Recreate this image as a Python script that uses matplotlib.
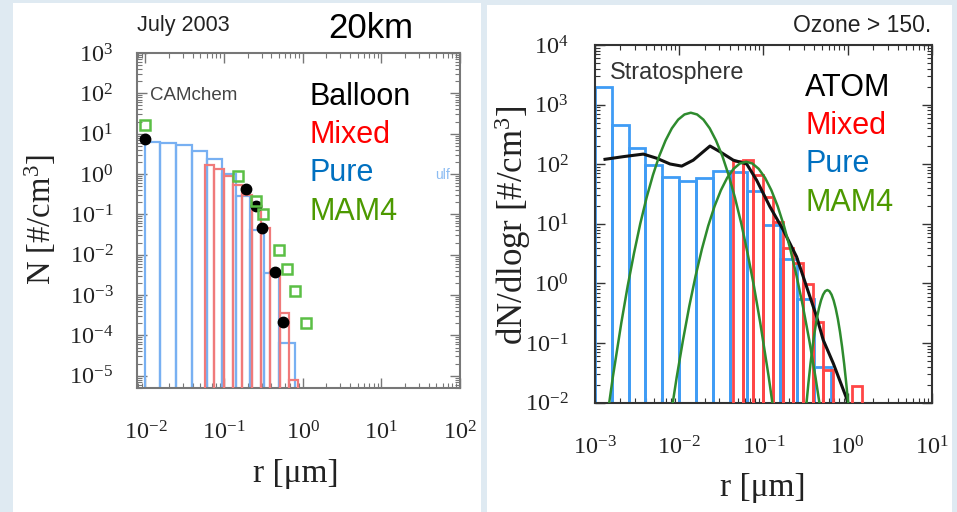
import matplotlib
matplotlib.use("Agg")
import matplotlib.pyplot as plt
from matplotlib.patches import Rectangle
from matplotlib.ticker import LogLocator, NullFormatter
import numpy as np

plt.rcParams["mathtext.fontset"] = "custom"
plt.rcParams["mathtext.rm"] = "Liberation Serif"
plt.rcParams["mathtext.it"] = "Liberation Serif:italic"
plt.rcParams["font.family"] = ["Liberation Sans", "DejaVu Sans"]

# ---- left panel: CAMchem at 20 km, July 2003 ----
pure_edges_l = [0.0100, 0.01556, 0.02426, 0.0389, 0.0614, 0.0942, 0.1426, 0.2153, 0.326, 0.507, 0.789]
pure_l = [6.1, 5.9, 5.3, 3.8, 2.4, 1.0, 0.28, 0.042, 0.0035, 6.6e-5]
mixed_edges_l = [0.0570, 0.0750, 0.0986, 0.1297, 0.1706, 0.2244, 0.2951, 0.3882, 0.5105, 0.6714, 0.8831]
mixed_l = [1.7, 1.33, 0.9, 0.54, 0.31, 0.17, 0.046, 0.0038, 3.5e-4, 8e-6]
balloon_r = [0.010, 0.191, 0.252, 0.307, 0.44, 0.555]
balloon_n = [7.4, 0.43, 0.164, 0.047, 0.0038, 2.1e-4]
mam4_r_l = [0.010, 0.152, 0.257, 0.313, 0.50, 0.637, 0.796, 1.09]
mam4_n_l = [16.7, 0.87, 0.21, 0.102, 0.0132, 0.0044, 0.00126, 2.0e-4]

# ---- right panel: stratosphere, ozone > 150 ----
pure_edges_r = [0.001, 0.00158, 0.00251, 0.00398, 0.00631, 0.0100, 0.0158, 0.0251,
                0.0398, 0.0631, 0.100, 0.158, 0.251, 0.398, 0.631]
pure_r = [2000, 455, 185, 97, 62, 52, 59, 77, 75, 36, 9.5, 2.6, 0.54, 0.04]
mixed_edges_r = [0.04395, 0.05768, 0.07568, 0.09931, 0.1303, 0.1710, 0.2244, 0.2944,
                 0.3864, 0.5070, 0.6653, 0.8730, 1.1455, 1.503]
mixed_r = [112, 118, 66, 28, 10.8, 3.9, 2.2, 0.98, 0.23, 0.035, 0, 0, 0.019]
atom_r = [0.001315, 0.002168, 0.00375, 0.00541, 0.00778, 0.01072, 0.01469, 0.02323,
          0.03055, 0.04395, 0.0634, 0.0832, 0.1197, 0.1722, 0.2483, 0.3266,
          0.4295, 0.5140, 0.6761, 0.975, 1.0]
atom_n = [121, 134, 148, 126, 101, 93, 117, 202, 162, 117, 101, 54, 19.4, 7.9,
          2.8, 0.88, 0.277, 0.113, 0.046, 0.0118, 0.0100]
# MAM4 modes
aitken_r = [0.001374, 0.001633, 0.002056, 0.002443, 0.002904, 0.003451, 0.00410, 0.004875,
            0.00579, 0.006887, 0.00818, 0.00973, 0.01156, 0.01374, 0.01633, 0.0194,
            0.02307, 0.0274, 0.0326, 0.0387, 0.0460, 0.0547, 0.0650, 0.0773, 0.0918,
            0.1156, 0.1374]
aitken_n = [0.0049, 0.0275, 0.22, 0.90, 3.2, 10.1, 27.5, 65.6, 137, 250, 400, 560, 684,
            731, 684, 560, 400, 250, 137, 65.6, 27.5, 10.1, 3.2, 0.90, 0.22, 0.0275, 0.0049]
accum_r = [0.00785, 0.00933, 0.0111, 0.01318, 0.01567, 0.01862, 0.0221, 0.0263, 0.0313,
           0.0372, 0.0442, 0.0525, 0.0624, 0.0741, 0.0881, 0.1047, 0.1245, 0.148,
           0.176, 0.209, 0.248, 0.295, 0.351, 0.417, 0.495]
accum_n = [0.0054, 0.0264, 0.112, 0.415, 1.34, 3.77, 9.2, 19.7, 36.6, 59.3, 83.6, 102.8,
           110, 102.8, 83.6, 59.3, 36.6, 19.7, 9.2, 3.77, 1.34, 0.415, 0.112, 0.0264, 0.0054]
coarse_r = [0.2884, 0.3055, 0.3236, 0.3428, 0.3631, 0.3846, 0.4074, 0.4315, 0.4571,
            0.4842, 0.5129, 0.5433, 0.5754, 0.6095, 0.6457, 0.6839, 0.7244, 0.7674,
            0.8128, 0.861, 0.912, 0.966, 1.0233, 1.0839, 1.148]
coarse_n = [0.00127, 0.00354, 0.009, 0.021, 0.045, 0.0875, 0.156, 0.255, 0.38, 0.52,
            0.65, 0.743, 0.776, 0.743, 0.65, 0.52, 0.38, 0.255, 0.156, 0.0875, 0.045,
            0.021, 0.009, 0.00354, 0.00127]

W, H = 957, 512
fig = plt.figure(figsize=(W / 100, H / 100), dpi=100)
fig.patch.set_facecolor("#dfeaf2")
fig.add_artist(Rectangle((13 / W, 0), (481 - 13) / W, 1 - 3 / H,
                         transform=fig.transFigure, facecolor="white", edgecolor="none", zorder=0))
fig.add_artist(Rectangle((487 / W, 0), (952 - 487) / W, 1 - 5 / H,
                         transform=fig.transFigure, facecolor="white", edgecolor="none", zorder=0))


def fpos(x, y):
    return x / W, 1 - y / H


def draw_bars(ax, edges, vals, color, lw, z):
    edges = np.asarray(edges)
    left = edges[:-1]
    width = edges[1:] - edges[:-1]
    ax.bar(left, np.asarray(vals), width=width, bottom=1e-12, align="edge",
           fill=False, edgecolor=color, linewidth=lw, zorder=z)


def style_axes(ax, spine_color, ypad):
    ax.set_xscale("log")
    ax.set_yscale("log")
    for axis in (ax.xaxis, ax.yaxis):
        axis.set_minor_locator(LogLocator(base=10, subs=np.arange(2, 10), numticks=100))
        axis.set_minor_formatter(NullFormatter())
    ax.tick_params(which="both", direction="in", top=True, right=True,
                   colors=spine_color, labelcolor="#222", labelsize=17.5,
                   labelfontfamily="Liberation Serif")
    ax.tick_params(which="major", length=7, width=1.0)
    ax.tick_params(which="minor", length=3.5, width=0.8)
    ax.tick_params(axis="x", pad=24)
    ax.tick_params(axis="y", pad=ypad)
    for s in ax.spines.values():
        s.set_color(spine_color)
        s.set_linewidth(1.5)
    ax.set_facecolor("none")


# left axes
axl = fig.add_axes([137 / W, 1 - 388 / H, (460 - 137) / W, (388 - 53) / H])
draw_bars(axl, pure_edges_l, pure_l, "#78b0f2", 1.6, 2)
draw_bars(axl, mixed_edges_l, mixed_l, "#f07a7a", 1.6, 3)
axl.plot(balloon_r, balloon_n, "o", color="black", markersize=7.5, zorder=5)
axl.plot(mam4_r_l, mam4_n_l, "s", markerfacecolor="none", markeredgecolor="#5bbf45",
         markeredgewidth=1.8, markersize=7.5, zorder=6, clip_on=False)
style_axes(axl, "#777777", 17)
axl.set_xlim(10 ** -2.106, 1e2)
axl.set_ylim(10 ** -5.305, 1e3)
axl.set_xticks([1e-2, 1e-1, 1e0, 1e1, 1e2])
axl.set_yticks([1e3, 1e2, 1e1, 1e0, 1e-1, 1e-2, 1e-3, 1e-4, 1e-5])

# right axes
axr = fig.add_axes([595 / W, 1 - 402.7 / H, (931.7 - 595) / W, (402.7 - 45) / H])
draw_bars(axr, pure_edges_r, pure_r, "#3f9cf5", 2.0, 2)
draw_bars(axr, mixed_edges_r, mixed_r, "#ff4646", 2.0, 3)
axr.plot(atom_r, atom_n, color="#111111", linewidth=2.2, zorder=5)
for rr, nn in [(aitken_r, aitken_n), (accum_r, accum_n), (coarse_r, coarse_n)]:
    axr.plot(rr, nn, color="#2e8b2e", linewidth=1.8, zorder=6)
style_axes(axr, "#333333", 19)
axr.set_xlim(1e-3, 1e1)
axr.set_ylim(1e-2, 1e4)
axr.set_xticks([1e-3, 1e-2, 1e-1, 1e0, 1e1])
axr.set_yticks([1e4, 1e3, 1e2, 1e1, 1e0, 1e-1, 1e-2])

# axis titles
serif = "Liberation Serif"
fig.text(*fpos(40, 220), "N [#/cm$^3$]", rotation=90, ha="center", va="center",
         family=serif, fontsize=23.5, color="#222")
fig.text(*fpos(296, 474), "r [\u03bcm]", ha="center", va="center",
         family=serif, fontsize=24, color="#222")
fig.text(*fpos(513, 225), "dN/dlogr [#/cm$^3$]", rotation=90, ha="center", va="center",
         family=serif, fontsize=25, color="#222")
fig.text(*fpos(763, 488), "r [\u03bcm]", ha="center", va="center",
         family=serif, fontsize=24, color="#222")

# panel annotations
fig.text(*fpos(137, 26), "July 2003", ha="left", va="center", fontsize=15.5, color="#222")
fig.text(*fpos(371, 29), "20km", ha="center", va="center", fontsize=25, color="black")
fig.text(*fpos(150, 95), "CAMchem", ha="left", va="center", fontsize=13.5, color="#444")
fig.text(*fpos(435, 175), "ulf", ha="left", va="center", fontsize=10, color="#8cbcf2")
fig.text(*fpos(931, 25), "Ozone > 150.", ha="right", va="center", fontsize=16.5, color="#222")
fig.text(*fpos(610, 73), "Stratosphere", ha="left", va="center", fontsize=16.8, color="#333")

legend_colors = ["black", "#ff0000", "#0070c0", "#4c9900"]
for name, col, y in zip(["Balloon", "Mixed", "Pure", "MAM4"], legend_colors, [97, 135, 173, 212]):
    fig.text(*fpos(310, y), name, ha="left", va="center", fontsize=22, color=col)
for name, col, y in zip(["ATOM", "Mixed", "Pure", "MAM4"], legend_colors, [88, 126, 164, 203]):
    fig.text(*fpos(805, y), name, ha="left", va="center", fontsize=22, color=col)

fig.savefig("out.png", dpi=100, facecolor=fig.get_facecolor())
